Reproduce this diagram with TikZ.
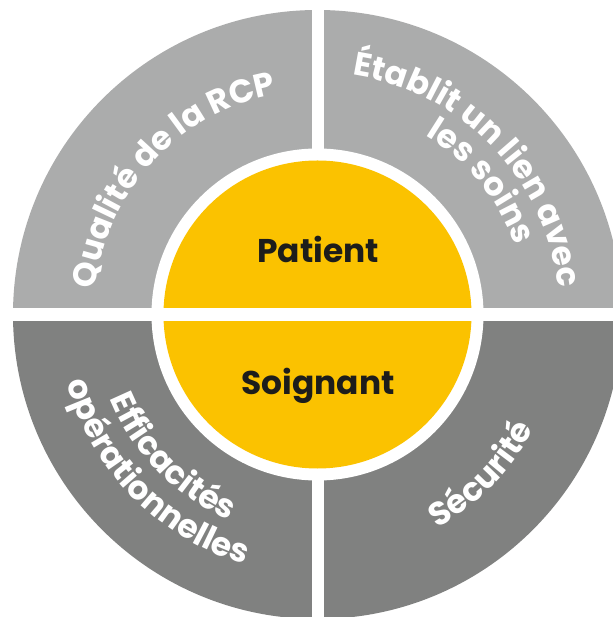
\documentclass[tikz,border=0pt]{standalone}
\usepackage{fontspec}
\setmainfont{Poppins}
\usetikzlibrary{decorations.text}
\definecolor{topgray}{HTML}{ABACAC}
\definecolor{botgray}{HTML}{808180}
\definecolor{sunyellow}{HTML}{FBC200}
\definecolor{inkdark}{HTML}{1D1D1B}
\newcommand\ringfont{\bfseries\fontsize{33}{33}\selectfont\color{white}}
\tikzset{
  cwtext/.style={decorate, decoration={text along path, text align=center, text={|\ringfont|#1}}},
  centerlabel/.style={anchor=base, text=inkdark, font=\bfseries\fontsize{33}{33}\selectfont, inner sep=0pt}
}
\begin{document}
\begin{tikzpicture}[x=1bp,y=1bp]
\useasboundingbox (-317.5,-302.5) rectangle (295.5,314.5);
\fill[white] (-317.5,-302.5) rectangle (295.5,314.5);
% outer ring halves
\fill[topgray] (0,0) -- (0:304.5bp) arc[start angle=0,end angle=180,radius=304.5bp] -- cycle;
\fill[botgray] (0,0) -- (180:304.5bp) arc[start angle=180,end angle=360,radius=304.5bp] -- cycle;
% white ring and yellow disk
\fill[white] (0,0) circle[radius=166bp];
\fill[sunyellow] (0,0) circle[radius=154bp];
% gaps
\fill[white] (-317.5,-6.3) rectangle (295.5,6.3);
\fill[white] (-6,158) rectangle (6,314.5);
\fill[white] (-6,-158) rectangle (6,-302.5);
% centre labels
\node[centerlabel] (patient) at (0.5,52.2) {Patient};
\node[centerlabel] (soignant) at (0.5,-80.5) {Soignant};
% curved texts (tops outward, clockwise)
\path[cwtext={Qualité de la RCP}] (207:224bp) arc[start angle=207,end angle=67,radius=224bp];
\path[cwtext={Établit un lien avec}] (124:242bp) arc[start angle=124,end angle=-36,radius=242bp];
\path[cwtext={les soins}] (119:209bp) arc[start angle=119,end angle=-41,radius=209bp];
% curved texts (tops inward, counter-clockwise)
\path[cwtext={Efficacités}] (144.5:224bp) arc[start angle=144.5,end angle=304.5,radius=224bp];
\path[cwtext={opérationnelles}] (144.5:260bp) arc[start angle=144.5,end angle=304.5,radius=260bp];
\path[cwtext={Sécurité}] (-124.3:245bp) arc[start angle=-124.3,end angle=35.7,radius=245bp];
\end{tikzpicture}
\end{document}
